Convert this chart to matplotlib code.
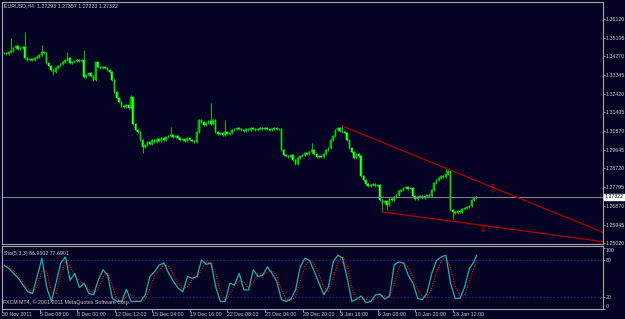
import numpy as np
import matplotlib
matplotlib.use("Agg")
import matplotlib.pyplot as plt

plt.rcParams['font.family'] = ['Liberation Sans', 'DejaVu Sans']

# EURUSD H4 closes, one per bar (30 Nov 2011 .. 13 Jan 2012)
closes = [
    1.3444, 1.3439, 1.3449, 1.3454, 1.3468, 1.3478, 1.3464, 1.3468, 1.3473, 1.3419,
    1.3409, 1.3414, 1.3409, 1.3419, 1.3424, 1.3434, 1.3449, 1.3444, 1.3394, 1.3379,
    1.3360, 1.3350, 1.3369, 1.3379, 1.3389, 1.3399, 1.3409, 1.3419, 1.3394, 1.3399,
    1.3404, 1.3409, 1.3404, 1.3409, 1.3325, 1.3335, 1.3345, 1.3330, 1.3310, 1.3399,
    1.3374, 1.3369, 1.3374, 1.3369, 1.3360, 1.3350, 1.3310, 1.3251, 1.3221, 1.3201,
    1.3181, 1.3176, 1.3186, 1.3171, 1.3226, 1.3092, 1.3063, 1.3053, 1.3013, 1.2978,
    1.2988, 1.3003, 1.2993, 1.3013, 1.3003, 1.3018, 1.3008, 1.3023, 1.3013, 1.3028,
    1.3033, 1.3038, 1.3028, 1.3033, 1.3023, 1.3013, 1.3018, 1.3008, 1.3023, 1.3013,
    1.3008, 1.3003, 1.3053, 1.3112, 1.3102, 1.3087, 1.3097, 1.3107, 1.3092, 1.3112,
    1.3053, 1.3043, 1.3048, 1.3038, 1.3053, 1.3043, 1.3048, 1.3063, 1.3068, 1.3072,
    1.3068, 1.3063, 1.3058, 1.3068, 1.3063, 1.3072, 1.3068, 1.3063, 1.3068, 1.3072,
    1.3068, 1.3072, 1.3068, 1.3063, 1.3068, 1.3072, 1.3068, 1.3068, 1.2964, 1.2939,
    1.2934, 1.2929, 1.2939, 1.2914, 1.2894, 1.2924, 1.2934, 1.2939, 1.2949, 1.2944,
    1.2954, 1.2964, 1.2944, 1.2929, 1.2934, 1.2929, 1.2944, 1.2964, 1.2973, 1.3013,
    1.3033, 1.3063, 1.3072, 1.3058, 1.3053, 1.3048, 1.3013, 1.2973, 1.2954, 1.2924,
    1.2944, 1.2934, 1.2835, 1.2815, 1.2795, 1.2785, 1.2790, 1.2795, 1.2785, 1.2790,
    1.2716, 1.2701, 1.2711, 1.2691, 1.2721, 1.2716, 1.2731, 1.2741, 1.2761, 1.2766,
    1.2775, 1.2780, 1.2770, 1.2775, 1.2736, 1.2721, 1.2731, 1.2736, 1.2726, 1.2736,
    1.2741, 1.2736, 1.2766, 1.2800, 1.2815, 1.2825, 1.2835, 1.2830, 1.2845, 1.2860,
    1.2667, 1.2657, 1.2652, 1.2662, 1.2657, 1.2671, 1.2676, 1.2681, 1.2686, 1.2716,
    1.2729, 1.27322,
]
first_open = 1.3446
last_bar = (1.27293, 1.27357, 1.27223, 1.27322)  # O H L C from the header

# long shadows
high_bars = [3, 9, 16, 27, 34, 54, 71, 88, 94, 131, 142, 144, 188]
high_vals = [1.3518, 1.3548, 1.3483, 1.3449, 1.3458, 1.3236, 1.3077, 1.3196,
             1.3112, 1.2998, 1.3077, 1.3082, 1.2879]
low_bars = [21, 59, 161, 163, 191]
low_vals = [1.3335, 1.2949, 1.2657, 1.2666, 1.2622]

# trend lines (bar, price)
upper_x = [144, 254.9]
upper_y = [1.3082, 1.2556]
lower_x = [161, 254.9]
lower_y = [1.2657, 1.2510]

# Stochastic(5,3,3), read every 2 bars
stoch_main = [
    71, 66, 58, 50, 39, 28, 25, 53, 83, 36,
    12, 42, 75, 85, 47, 58, 35, 42, 25, 23,
    47, 64, 55, 17, 12, 12, 32, 12, 12, 12,
    23, 53, 61, 72, 75, 58, 45, 34, 28, 53,
    50, 53, 80, 73, 75, 36, 12, 12, 42, 39,
    58, 31, 31, 64, 53, 55, 69, 58, 45, 15,
    12, 16, 31, 69, 83, 79, 61, 42, 23, 36,
    77, 88, 83, 50, 12, 16, 21, 10, 12, 23,
    24, 16, 21, 72, 77, 75, 55, 42, 17, 15,
    26, 58, 79, 85, 88, 42, 17, 17, 36, 66,
    77, 86.9602,
]
stoch_signal = [
    72, 69, 62, 54, 44, 33, 26, 36, 62, 62,
    28, 25, 55, 78, 70, 54, 46, 40, 32, 24,
    32, 52, 60, 38, 15, 12, 20, 24, 14, 12,
    15, 35, 54, 64, 72, 70, 56, 42, 33, 36,
    48, 51, 64, 77, 75, 58, 28, 13, 24, 38,
    46, 44, 34, 44, 58, 56, 60, 63, 54, 32,
    16, 13, 20, 46, 70, 80, 74, 56, 36, 28,
    50, 76, 86, 70, 34, 17, 15, 16, 13, 16,
    21, 21, 19, 40, 68, 76, 68, 52, 32, 20,
    18, 34, 60, 78, 85, 68, 36, 20, 22, 45,
    68, 77.6901,
]

price_ticks = [1.36120, 1.35195, 1.34270, 1.33345, 1.32420, 1.31495, 1.30570,
               1.29645, 1.28720, 1.27795, 1.26870, 1.25945, 1.25020]
date_labels = ["30 Nov 2011", "5 Dec 08:00", "8 Dec 00:00", "12 Dec 12:00",
               "15 Dec 04:00", "19 Dec 16:00", "22 Dec 08:00", "27 Dec 04:00",
               "29 Dec 20:00", "3 Jan 16:00", "6 Jan 08:00", "10 Jan 20:00",
               "13 Jan 12:00"]

bg = "#050323"
fg = "#c8c8c8"
frame = "#a8a8a8"
fs = 3.8

W, H = 625, 319
fig = plt.figure(figsize=(6.25, 3.19), dpi=100, facecolor=bg)


def box(l, t, r, b):
    return [l / W, 1 - b / H, (r - l) / W, (b - t) / H]


ax = fig.add_axes(box(2, 2, 603, 243.5), facecolor=bg)
ax2 = fig.add_axes(box(2, 246, 603, 309), facecolor=bg)

# candles
c = np.array(closes)
o = np.r_[first_open, c[:-1]]
o[-1] = last_bar[0]
hi = np.maximum(o, c) + 0.0004
lo = np.minimum(o, c) - 0.0004
hi[high_bars] = high_vals
lo[low_bars] = low_vals
hi[-1], lo[-1] = last_bar[1], last_bar[2]
x = np.arange(len(c))
up = c >= o

ax.vlines(x, lo, hi, color="#00e000", lw=0.6)
ax.bar(x[up], (c - o)[up], bottom=o[up], width=0.65, color="#008a00",
       edgecolor="#00ff00", lw=0.35)
ax.bar(x[~up], (c - o)[~up], bottom=o[~up], width=0.65, color="#33ff33",
       edgecolor="#33ff33", lw=0.35)

ax.axhline(last_bar[3], color="#8a8a8a", lw=0.7)
ax.plot(upper_x, upper_y, color="#b00000", lw=0.9)
ax.plot(lower_x, lower_y, color="#b00000", lw=0.9)
ax.text(207.7, 1.2770, "\u21e9", color="#e00000", fontsize=7, ha="center",
        va="center", family="DejaVu Sans")
ax.text(203.4, 1.2571, "\u21e7", color="#e00000", fontsize=7, ha="center",
        va="center", family="DejaVu Sans")

ax.set_xlim(-0.85, 254.9)
ax.set_ylim(1.25007, 1.36961)
ax.set_xticks([])
ax.yaxis.tick_right()
ax.set_yticks(price_ticks)
ax.set_yticklabels(["%.5f" % p for p in price_ticks])
ax.tick_params(axis="y", colors=frame, labelcolor=fg, labelsize=fs, length=1.5,
               width=0.6, pad=0.5)
ax.text(1.003, last_bar[3], "%.5f" % last_bar[3], transform=ax.get_yaxis_transform(),
        fontsize=fs, color="black", va="center", ha="left",
        bbox=dict(boxstyle="square,pad=0.1", fc="white", ec="white"))

# stochastic window
sx = np.r_[np.arange(0, len(c) - 1, 2), len(c) - 1]
ax2.axhline(80, color="#2424a8", lw=0.7, ls=(0, (1.5, 2)))
ax2.axhline(20, color="#2424a8", lw=0.7, ls=(0, (1.5, 2)))
ax2.plot(sx, stoch_signal, color="#ff1010", lw=0.8, ls=(0, (1, 1.2)))
ax2.plot(sx, stoch_main, color="#20b2aa", lw=0.9)
ax2.set_xlim(-0.85, 254.9)
ax2.set_ylim(-0.3, 103)
ax2.yaxis.tick_right()
ax2.set_yticks([0, 20, 80, 100])
ax2.set_yticklabels(["0", "20", "80", "100"])
ax2.tick_params(axis="y", colors=frame, labelcolor=fg, labelsize=fs, length=1.5,
                width=0.6, pad=0.5)
labs = ax2.get_yticklabels()
labs[0].set_va("bottom")
labs[3].set_va("top")

ax2.set_xticks(np.arange(-1, 192, 16))
ax2.set_xticklabels(date_labels, ha="left")
ax2.tick_params(axis="x", colors=frame, labelcolor=fg, labelsize=fs, length=2,
                width=0.6, pad=0.5)

for a in (ax, ax2):
    for s in a.spines.values():
        s.set_color(frame)
        s.set_linewidth(0.8)

fig.text(4 / W, 1 - 6 / H, "EURUSD,H4  1.27293 1.27357 1.27223 1.27322",
         color=fg, fontsize=fs, va="center", ha="left")
fig.text(4 / W, 1 - 253 / H, "Sto(5,3,3) 86.9602 77.6901",
         color=fg, fontsize=fs, va="center", ha="left")
fig.text(3 / W, 1 - 302 / H, "FXCM MT4, \u00a9 2001-2011 MetaQuotes Software Corp.",
         color=fg, fontsize=fs, va="center", ha="left")

fig.savefig("out.png", dpi=100, facecolor=bg)
